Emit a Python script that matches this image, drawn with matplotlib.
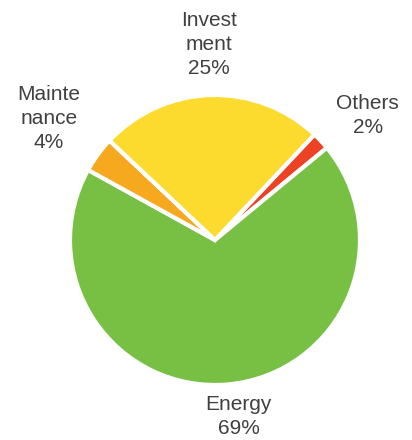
import numpy as np
import matplotlib
matplotlib.use("Agg")
import matplotlib.pyplot as plt

plt.rcParams['font.family'] = ['Liberation Sans', 'DejaVu Sans']

# data
labels = ["Others", "Energy", "Mainte\nnance", "Invest\nment"]
values = [2, 69, 4, 25]
colors = ["#EE4224", "#77C044", "#F6A81F", "#FDDA2E"]
label_dist = [1.40, 1.22, 1.42, 1.35]
label_shift = [(0.03, -0.1), (0.05, 0), (0, 0), (0, 0)]

fig = plt.figure(figsize=(4.12, 4.4), dpi=100)
W, H = 412, 440
cx, cy, r = 215, 240, 145
ax = fig.add_axes([(cx - r) / W, (H - cy - r) / H, 2 * r / W, 2 * r / H])

wedges, _ = ax.pie(values, colors=colors, startangle=46.7, counterclock=False,
                   radius=1, wedgeprops=dict(edgecolor="white", linewidth=3))
ax.set_xlim(-1, 1)
ax.set_ylim(-1, 1)
ax.set_aspect("equal")
ax.axis("off")

total = sum(values)
for w, lab, v, d, (sx, sy) in zip(wedges, labels, values, label_dist, label_shift):
    mid = np.deg2rad((w.theta1 + w.theta2) / 2)
    x, y = d * np.cos(mid) + sx, d * np.sin(mid) + sy
    ax.text(x, y, f"{lab}\n{round(v / total * 100)}%", ha="center", va="center",
            fontsize=15, color="#404040", linespacing=1.35, clip_on=False)

fig.savefig("out.png", dpi=100)
